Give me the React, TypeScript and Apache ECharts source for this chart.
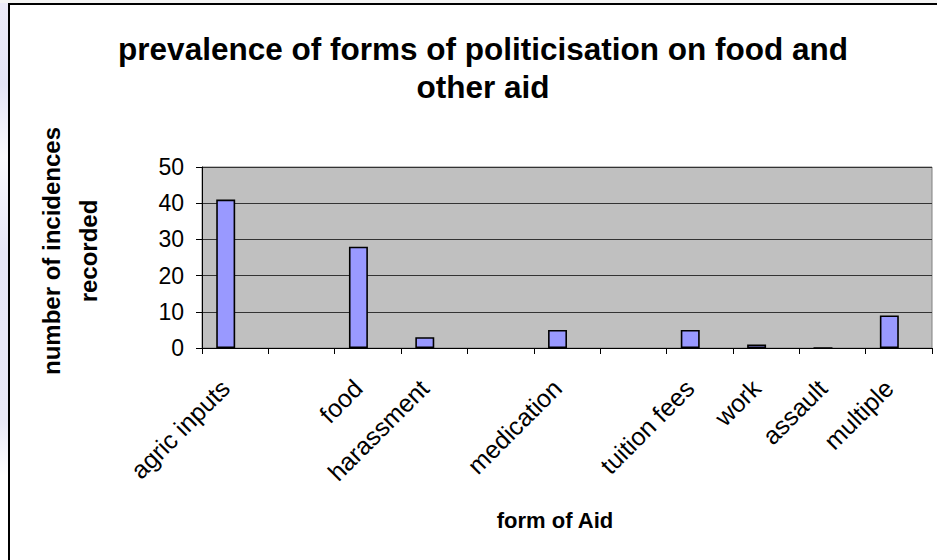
import React, { useEffect, useRef } from "react";
import * as echarts from "echarts";

const titleLines = ["prevalence of forms of politicisation on food and", "other aid"];
const yTitleLines = ["number of incidences", "recorded"];
const xTitle = "form of Aid";
const categories = ["agric inputs", "", "food", "harassment", "", "medication", "", "tuition fees", "work", "assault", "multiple"];
const incidences = [41, null, 28, 3, null, 5, null, 5, 1, 0, 9];
const emptySeries = [null, null, null, null, null, null, null, null, null, null, null];
const yTicks = { min: 0, max: 50, interval: 10 };

const FONT = "Liberation Sans, Arial, sans-serif";

export default function App() {
  const ref = useRef<HTMLDivElement>(null);
  useEffect(() => {
    if (!ref.current) return;
    const chart = echarts.init(ref.current, null, { renderer: "svg" });
    chart.setOption({
      animation: false,
      backgroundColor: "#ffffff",
      textStyle: { fontFamily: FONT },
      grid: { left: 202, top: 167, width: 730, height: 181, show: true, backgroundColor: "#C0C0C0", borderColor: "#808080", borderWidth: 1 },
      xAxis: {
        type: "category",
        data: categories,
        boundaryGap: true,
        axisLine: { show: true, lineStyle: { color: "#000", width: 1 } },
        axisTick: { show: true, interval: 0, length: 6, lineStyle: { color: "#000" } },
        axisLabel: { interval: 0, rotate: 45, fontSize: 25, color: "#000", margin: 26, padding: [0, 14, 0, 0], fontFamily: FONT },
        splitLine: { show: false },
      },
      yAxis: {
        type: "value",
        min: yTicks.min,
        max: yTicks.max,
        interval: yTicks.interval,
        axisLine: { show: true, lineStyle: { color: "#000", width: 1 } },
        axisTick: { show: true, length: 6, lineStyle: { color: "#000" } },
        axisLabel: { fontSize: 23, color: "#000", margin: 18, fontFamily: FONT },
        splitLine: { show: true, lineStyle: { color: "#333333", width: 1.2 } },
      },
      series: [
        {
          type: "bar",
          name: "incidences",
          data: incidences,
          barGap: "0%",
          barCategoryGap: "42.86%",
          itemStyle: { color: "#9999FF", borderColor: "#000", borderWidth: 1.6 },
        },
        {
          type: "bar",
          name: "other",
          data: emptySeries,
          barGap: "0%",
          barCategoryGap: "42.86%",
          itemStyle: { color: "#993366", borderColor: "#000", borderWidth: 1.6 },
        },
      ],
      graphic: [
        {
          type: "rect",
          z: -10,
          shape: { x: 0, y: 0, width: 9, height: 560 },
          style: {
            fill: new echarts.graphic.LinearGradient(0, 0, 0, 1, [
              { offset: 0, color: "#ECEBF8" },
              { offset: 0.15, color: "#E4E4F6" },
              { offset: 0.28, color: "#FAFAFD" },
              { offset: 0.45, color: "#E6E6F7" },
              { offset: 0.75, color: "#E8E8F7" },
              { offset: 0.85, color: "#FFFFFF" },
              { offset: 1, color: "#FFFFFF" },
            ]),
          },
          silent: true,
        },
        {
          type: "rect",
          z: -10,
          shape: { x: 0, y: 0, width: 937, height: 3 },
          style: { fill: "#F4F4F4" },
          silent: true,
        },
        {
          type: "rect",
          z: 100,
          shape: { x: 9, y: 4, width: 940, height: 580 },
          style: { fill: "none", stroke: "#000", lineWidth: 2 },
          silent: true,
        },
        {
          type: "text",
          x: 483,
          y: 49,
          style: { text: titleLines[0], font: `bold 31.5px ${FONT}`, fill: "#000", align: "center", verticalAlign: "middle" },
        },
        {
          type: "text",
          x: 483,
          y: 87,
          style: { text: titleLines[1], font: `bold 31.5px ${FONT}`, fill: "#000", align: "center", verticalAlign: "middle" },
        },
        {
          type: "text",
          x: 51,
          y: 251,
          rotation: Math.PI / 2,
          style: { text: yTitleLines[0], font: `bold 24px ${FONT}`, fill: "#000", align: "center", verticalAlign: "middle" },
        },
        {
          type: "text",
          x: 88,
          y: 251,
          rotation: Math.PI / 2,
          style: { text: yTitleLines[1], font: `bold 24px ${FONT}`, fill: "#000", align: "center", verticalAlign: "middle" },
        },
        {
          type: "text",
          x: 555,
          y: 520,
          style: { text: xTitle, font: `bold 22px ${FONT}`, fill: "#000", align: "center", verticalAlign: "middle" },
        },
      ],
    });
    return () => chart.dispose();
  }, []);
  return (
    <div style={{ position: "fixed", left: 0, top: 0, width: 937, height: 560, background: "#fff" }}>
      <div ref={ref} style={{ width: 937, height: 560 }} />
    </div>
  );
}
